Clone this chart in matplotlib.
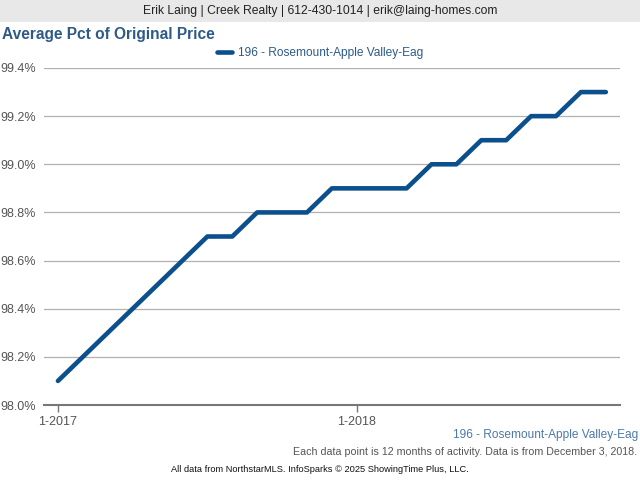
import matplotlib
matplotlib.use("Agg")
import matplotlib.pyplot as plt
from matplotlib.patches import Rectangle

plt.rcParams['font.family'] = ['Liberation Sans', 'DejaVu Sans']

months = ["1-2017","2-2017","3-2017","4-2017","5-2017","6-2017","7-2017","8-2017","9-2017","10-2017","11-2017","12-2017",
          "1-2018","2-2018","3-2018","4-2018","5-2018","6-2018","7-2018","8-2018","9-2018","10-2018","11-2018"]
values = [98.1, 98.2, 98.3, 98.4, 98.5, 98.6, 98.7, 98.7, 98.8, 98.8, 98.8, 98.9,
          98.9, 98.9, 98.9, 99.0, 99.0, 99.1, 99.1, 99.2, 99.2, 99.3, 99.3]
series_name = "196 - Rosemount-Apple Valley-Eag"
yticks = [98.0, 98.2, 98.4, 98.6, 98.8, 99.0, 99.2, 99.4]
xtick_labels = ["1-2017", "1-2018"]

fig = plt.figure(figsize=(6.4, 4.8), dpi=100)
fig.patches.append(Rectangle((0, 1 - 22/480), 1, 22/480, transform=fig.transFigure,
                             facecolor="#e8e8e8", edgecolor="none", zorder=0))
fig.text(0.5, 1 - 11/480, "Erik Laing | Creek Realty | 612-430-1014 | erik@laing-homes.com",
         ha="center", va="center", fontsize=8.7, color="#222222")
fig.text(2/640, 1 - 35/480, "Average Pct of Original Price", ha="left", va="center",
         fontsize=11.2, fontweight="bold", color="#2d5a88")

ax = fig.add_axes([44/640, 1 - 405/480, 576/640, 337/480])
x = list(range(len(values)))
line, = ax.plot(x, values, color="#0b4f8c", lw=3.3, solid_joinstyle="round", solid_capstyle="round",
                label=series_name, zorder=3)
ax.set_xlim(-0.56, 22.57)
ax.set_ylim(98.0, 99.4)
ax.set_yticks(yticks)
ax.set_yticklabels([f"{v:.1f}%" for v in yticks])
ax.set_xticks([months.index(l) for l in xtick_labels])
ax.set_xticklabels(xtick_labels)
ax.grid(axis="y", color="#b0b0b0", lw=0.9)
ax.set_axisbelow(True)
for s in ["top", "right", "left"]:
    ax.spines[s].set_visible(False)
ax.spines["bottom"].set_color("#777777")
ax.spines["bottom"].set_linewidth(1.5)
ax.tick_params(axis="y", length=0, pad=6, labelsize=9, labelcolor="#555555")
ax.tick_params(axis="x", length=5, width=1, color="#777777", pad=3, labelsize=9, labelcolor="#555555")

fig.legend(handles=[line], loc="center", bbox_to_anchor=(320/640, 1 - 53/480), frameon=False,
           fontsize=8.6, labelcolor="#2d5a88", handlelength=1.3, handletextpad=0.5)

fig.text(638/640, 1 - 435/480, series_name, ha="right", va="center", fontsize=8.6, color="#4d79a8")
fig.text(637/640, 1 - 452/480, "Each data point is 12 months of activity. Data is from December 3, 2018.",
         ha="right", va="center", fontsize=7.65, color="#555555")
fig.text(320/640, 1 - 469/480, "All data from NorthstarMLS. InfoSparks © 2025 ShowingTime Plus, LLC.",
         ha="center", va="center", fontsize=6.7, color="#111111")

fig.savefig("out.png", dpi=100)
